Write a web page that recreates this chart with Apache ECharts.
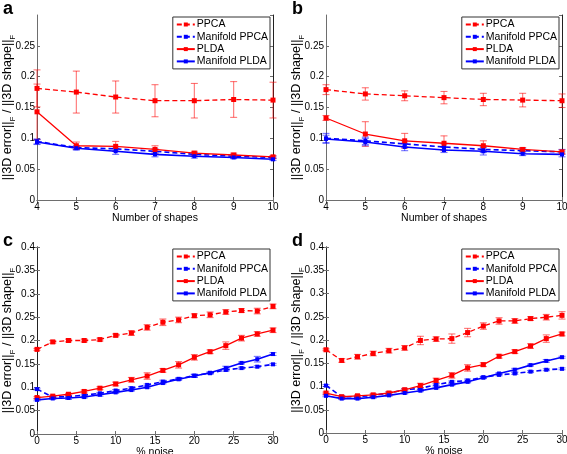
<!DOCTYPE html>
<html>
<head>
<meta charset="utf-8">
<script src="https://cdn.jsdelivr.net/npm/echarts@6/dist/echarts.min.js"></script>
<style>
html,body{margin:0;padding:0;background:#fff;}
#chart{width:567px;height:454px;}
</style>
</head>
<body>
<div id="chart"></div>
<script>
// ---------- data ----------
const shapesX = [4, 5, 6, 7, 8, 9, 10];
const noiseX = [0, 2, 4, 6, 8, 10, 12, 14, 16, 18, 20, 22, 24, 26, 28, 30];
const seriesNames = ['PPCA', 'Manifold PPCA', 'PLDA', 'Manifold PLDA'];
const panelLetters = ['a', 'b', 'c', 'd'];
const xTitles = ['Number of shapes', 'Number of shapes', '% noise', '% noise'];

// panel a
const aPPCA = [0.181, 0.175, 0.167, 0.161, 0.161, 0.163, 0.162];
const aPPCAErr = [0.030, 0.034, 0.026, 0.026, 0.028, 0.029, 0.029];
const aMPPCA = [0.095, 0.085, 0.083, 0.079, 0.074, 0.071, 0.069];
const aMPPCAErr = [0.004, 0.003, 0.004, 0.004, 0.003, 0.003, 0.002];
const aPLDA = [0.143, 0.088, 0.087, 0.082, 0.076, 0.073, 0.070];
const aPLDAErr = [0.045, 0.006, 0.008, 0.006, 0.003, 0.003, 0.002];
const aMPLDA = [0.094, 0.084, 0.079, 0.074, 0.071, 0.069, 0.066];
const aMPLDAErr = [0.004, 0.003, 0.005, 0.004, 0.003, 0.002, 0.002];

// panel b
const bPPCA = [0.179, 0.172, 0.169, 0.166, 0.163, 0.162, 0.161];
const bPPCAErr = [0.008, 0.010, 0.008, 0.010, 0.010, 0.011, 0.011];
const bMPPCA = [0.100, 0.096, 0.091, 0.086, 0.082, 0.080, 0.078];
const bMPPCAErr = [0.008, 0.006, 0.005, 0.005, 0.005, 0.004, 0.004];
const bPLDA = [0.133, 0.107, 0.096, 0.092, 0.088, 0.082, 0.078];
const bPLDAErr = [0.004, 0.020, 0.012, 0.012, 0.008, 0.003, 0.003];
const bMPLDA = [0.099, 0.094, 0.086, 0.081, 0.079, 0.075, 0.074];
const bMPLDAErr = [0.006, 0.006, 0.006, 0.004, 0.006, 0.003, 0.004];

// panel c
const cPPCA = [0.181, 0.197, 0.200, 0.200, 0.202, 0.211, 0.216, 0.228, 0.239, 0.244, 0.253, 0.255, 0.261, 0.264, 0.263, 0.273];
const cPPCAErr = [0.002, 0.003, 0.003, 0.003, 0.003, 0.003, 0.005, 0.006, 0.007, 0.006, 0.004, 0.006, 0.005, 0.004, 0.006, 0.005];
const cMPPCA = [0.096, 0.079, 0.080, 0.083, 0.087, 0.093, 0.098, 0.105, 0.112, 0.118, 0.125, 0.130, 0.137, 0.141, 0.144, 0.149];
const cMPPCAErr = [0.002, 0.002, 0.002, 0.002, 0.002, 0.002, 0.003, 0.002, 0.003, 0.002, 0.003, 0.002, 0.003, 0.002, 0.002, 0.002];
const cPLDA = [0.078, 0.081, 0.085, 0.091, 0.098, 0.107, 0.116, 0.124, 0.136, 0.148, 0.164, 0.176, 0.189, 0.205, 0.214, 0.222];
const cPLDAErr = [0.002, 0.002, 0.002, 0.003, 0.003, 0.004, 0.005, 0.007, 0.004, 0.007, 0.006, 0.004, 0.008, 0.006, 0.005, 0.005];
const cMPLDA = [0.073, 0.076, 0.077, 0.079, 0.084, 0.089, 0.094, 0.100, 0.109, 0.117, 0.124, 0.131, 0.141, 0.152, 0.160, 0.171];
const cMPLDAErr = [0.002, 0.002, 0.003, 0.002, 0.003, 0.002, 0.002, 0.002, 0.002, 0.002, 0.003, 0.002, 0.004, 0.002, 0.006, 0.003];

// panel d
const dPPCA = [0.179, 0.156, 0.164, 0.171, 0.177, 0.183, 0.199, 0.202, 0.203, 0.216, 0.230, 0.241, 0.241, 0.246, 0.249, 0.253];
const dPPCAErr = [0.002, 0.004, 0.005, 0.005, 0.005, 0.005, 0.009, 0.005, 0.010, 0.009, 0.007, 0.007, 0.005, 0.004, 0.006, 0.008];
const dMPPCA = [0.102, 0.078, 0.078, 0.081, 0.086, 0.093, 0.096, 0.104, 0.110, 0.113, 0.120, 0.125, 0.128, 0.132, 0.136, 0.138];
const dMPPCAErr = [0.002, 0.002, 0.002, 0.002, 0.002, 0.002, 0.002, 0.002, 0.002, 0.003, 0.002, 0.002, 0.002, 0.002, 0.002, 0.002];
const dPLDA = [0.086, 0.078, 0.080, 0.082, 0.086, 0.093, 0.102, 0.113, 0.124, 0.140, 0.147, 0.165, 0.175, 0.187, 0.203, 0.213];
const dPLDAErr = [0.002, 0.002, 0.002, 0.003, 0.003, 0.003, 0.005, 0.005, 0.006, 0.007, 0.004, 0.004, 0.004, 0.005, 0.008, 0.004];
const dMPLDA = [0.080, 0.074, 0.074, 0.077, 0.081, 0.086, 0.091, 0.097, 0.104, 0.110, 0.119, 0.128, 0.136, 0.146, 0.155, 0.163];
const dMPLDAErr = [0.002, 0.002, 0.002, 0.002, 0.002, 0.002, 0.002, 0.002, 0.002, 0.002, 0.002, 0.002, 0.003, 0.002, 0.003, 0.002];

// ---------- build ----------
const FONT = '"Liberation Sans", Arial, Helvetica, sans-serif';
const RED = '#ff0000', BLUE = '#0000ff';
const AXC = '#6e6e6e';

const panels = [
  { x: shapesX, vals: [aPPCA, aMPPCA, aPLDA, aMPLDA], errs: [aPPCAErr, aMPPCAErr, aPLDAErr, aMPLDAErr],
    grid: { left: 37, top: 15, width: 236, height: 185 }, xmin: 4, xmax: 10, xint: 1, ymax: 0.3 },
  { x: shapesX, vals: [bPPCA, bMPPCA, bPLDA, bMPLDA], errs: [bPPCAErr, bMPPCAErr, bPLDAErr, bMPLDAErr],
    grid: { left: 326, top: 15, width: 236, height: 185 }, xmin: 4, xmax: 10, xint: 1, ymax: 0.3 },
  { x: noiseX, vals: [cPPCA, cMPPCA, cPLDA, cMPLDA], errs: [cPPCAErr, cMPPCAErr, cPLDAErr, cMPLDAErr],
    grid: { left: 37, top: 247, width: 236, height: 187 }, xmin: 0, xmax: 30, xint: 5, ymax: 0.4 },
  { x: noiseX, vals: [dPPCA, dMPPCA, dPLDA, dMPLDA], errs: [dPPCAErr, dMPPCAErr, dPLDAErr, dMPLDAErr],
    grid: { left: 326, top: 247, width: 236, height: 186 }, xmin: 0, xmax: 30, xint: 5, ymax: 0.4 }
];

const styles = [
  { color: RED, dash: [5, 3], symbol: 'rect', size: 5, width: 1.3 },
  { color: BLUE, dash: [5, 3], symbol: 'rect', size: 4, width: 1.6 },
  { color: RED, dash: 'solid', symbol: 'rect', size: 5, width: 1.3 },
  { color: BLUE, dash: 'solid', symbol: 'rect', size: 4, width: 1.6 }
];

const grids = [], xAxes = [], yAxes = [], series = [], legends = [], graphics = [];

function errRender(color) {
  return function (params, api) {
    const x = api.value(0), lo = api.value(1), hi = api.value(2);
    const p1 = api.coord([x, lo]), p2 = api.coord([x, hi]);
    const w = 3.5;
    const st = { stroke: color, lineWidth: 1.1, opacity: 0.55 };
    return {
      type: 'group',
      children: [
        { type: 'line', shape: { x1: p1[0], y1: p1[1], x2: p2[0], y2: p2[1] }, style: st },
        { type: 'line', shape: { x1: p1[0] - w, y1: p1[1], x2: p1[0] + w, y2: p1[1] }, style: st },
        { type: 'line', shape: { x1: p2[0] - w, y1: p2[1], x2: p2[0] + w, y2: p2[1] }, style: st }
      ]
    };
  };
}

panels.forEach((p, i) => {
  grids.push(Object.assign({ containLabel: false, outerBoundsMode: 'none', show: false }, p.grid));
  const axLine = { show: true, lineStyle: { color: AXC, width: 1 } };
  const tick = { show: true, inside: true, length: 3, lineStyle: { color: AXC } };
  xAxes.push({
    type: 'value', gridIndex: i, min: p.xmin, max: p.xmax, interval: p.xint, position: 'bottom',
    axisLine: axLine, axisTick: tick, splitLine: { show: false },
    axisLabel: { color: '#000', fontSize: 10, fontFamily: FONT, margin: 2 },
    name: xTitles[i], nameLocation: 'middle', nameGap: 13, nameMoveOverlap: false,
    nameTextStyle: { color: '#000', fontSize: 10.5, fontFamily: FONT }
  });
  yAxes.push({
    type: 'value', gridIndex: i, min: 0, max: p.ymax, interval: 0.05, position: 'left',
    axisLine: axLine, axisTick: tick, splitLine: { show: false },
    axisLabel: { color: '#000', fontSize: 10, fontFamily: FONT, margin: 2, showMaxLabel: p.ymax > 0.35 },
    name: '||3D error||{s|F} / ||3D shape||{s|F}', nameLocation: 'middle', nameGap: 20.5, nameMoveOverlap: false,
    nameTextStyle: {
      color: '#000', fontSize: 12.5, fontFamily: FONT, lineHeight: 18,
      rich: { s: { fontSize: 8, fontFamily: FONT, lineHeight: 10, verticalAlign: 'bottom', color: '#000' } }
    }
  });
});
// secondary (top/right) box axes
panels.forEach((p, i) => {
  const tick = { show: true, inside: true, length: 3, lineStyle: { color: AXC } };
  xAxes.push({
    type: 'value', gridIndex: i, min: p.xmin, max: p.xmax, interval: p.xint, position: 'top',
    axisLine: { show: true, lineStyle: { color: AXC } }, axisTick: tick,
    axisLabel: { show: false }, splitLine: { show: false }
  });
  yAxes.push({
    type: 'value', gridIndex: i, min: 0, max: p.ymax, interval: 0.05, position: 'right',
    axisLine: { show: true, lineStyle: { color: '#222' } }, axisTick: tick,
    axisLabel: { show: false }, splitLine: { show: false }
  });
});

panels.forEach((p, i) => {
  p.vals.forEach((v, k) => {
    const e = p.errs[k];
    series.push({
      type: 'custom', name: seriesNames[k] + ' err' + i, xAxisIndex: i, yAxisIndex: i,
      renderItem: errRender(styles[k].color), silent: true, z: 1,
      encode: { x: 0, y: [1, 2] },
      data: p.x.map((xv, j) => [xv, v[j] - e[j], v[j] + e[j]])
    });
  });
  p.vals.forEach((v, k) => {
    const s = styles[k];
    series.push({
      type: 'line', name: seriesNames[k], xAxisIndex: i, yAxisIndex: i, z: 3,
      data: p.x.map((xv, j) => [xv, v[j]]),
      symbol: s.symbol, symbolSize: s.size, showSymbol: true,
      itemStyle: { color: s.color },
      lineStyle: { color: s.color, width: s.width, type: s.dash },
      emphasis: { disabled: true }, silent: true
    });
  });
  legends.push({
    data: seriesNames, orient: 'vertical',
    right: 567 - (p.grid.left + p.grid.width) + 3, top: p.grid.top + 2,
    backgroundColor: '#fff', borderColor: '#333', borderWidth: 1,
    padding: [2, 2, 2, 3], itemGap: 1.3, itemWidth: 18, itemHeight: 5,
    textStyle: { fontSize: 10.5, fontFamily: FONT, color: '#000', lineHeight: 11, padding: [0, 0, 0, -3] },
    selectedMode: false
  });
  graphics.push({
    type: 'text', left: p.grid.left - 34, top: p.grid.top - 15,
    style: { text: panelLetters[i], font: 'bold 18px ' + FONT, fill: '#000' }
  });
});

const chart = echarts.init(document.getElementById('chart'), null, { renderer: 'canvas' });
chart.setOption({
  animation: false,
  backgroundColor: '#fff',
  grid: grids, xAxis: xAxes, yAxis: yAxes,
  legend: legends, series: series, graphic: graphics
});
</script>
</body>
</html>
